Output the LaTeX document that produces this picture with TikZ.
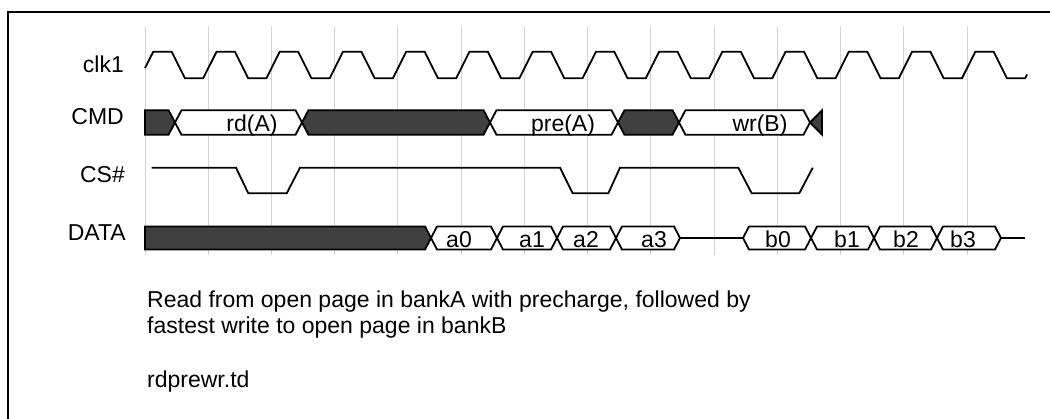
\documentclass[tikz,border=0pt]{standalone}
\usepackage{fontspec}
\setmainfont{Liberation Sans}
\begin{document}
\begin{tikzpicture}[
  x=1pt, y=-1pt,
  sig/.style={line width=1.8pt, line join=miter},
  gridline/.style={draw=black!17, line width=0.9pt},
  busopen/.style={sig, fill=white},
  busdark/.style={sig, fill=black!75},
  lbl/.style={font=\fontsize{23}{27}\selectfont, inner sep=0pt}
]
\useasboundingbox (0,0) rectangle (1050,418);
% frame
\draw[line width=2pt] (1060,12) -- (8,12) -- (8,430);

% clock grid
\foreach \k in {0,...,13}
  \draw[gridline] ({145+\k*63.23},26) -- ({145+\k*63.23},255);

% signal names
\node[lbl, anchor=base east] (clk) at (124,72) {clk1};
\node[lbl, anchor=base east] (cmd) at (124,124) {CMD};
\node[lbl, anchor=base east] (cs) at (125,182) {CS\#};
\node[lbl, anchor=base east] (data) at (126,240) {DATA};

% clk1
\draw[sig] (145,68) \foreach \k in {0,...,13} {
  -- ({145+\k*63.23+8.3},51.7) -- ({145+\k*63.23+26.7},51.7)
  -- ({145+\k*63.23+40},78.3) -- ({145+\k*63.23+58.2},78.3)} -- (1027,74.5);

% CMD bus
\draw[busdark] (145,110.2) -- (168.5,110.2) -- (175,122.5) -- (168.5,134.8) -- (145,134.8) -- cycle;
\foreach \a/\b in {302/490, 618/679}
  \draw[busdark] (\a,122.5) -- ({\a+6.5},110.2) -- ({\b-6.5},110.2) -- (\b,122.5)
    -- ({\b-6.5},134.8) -- ({\a+6.5},134.8) -- cycle;
\draw[busdark] (810,122.5) -- (822,110.5) -- (822,134.5) -- cycle;
\foreach \a/\b/\c/\t/\n in {175/302/252/rd(A)/rd, 490/618/563/pre(A)/pre, 679/810/760/wr(B)/wr} {
  \draw[busopen] (\a,122.5) -- ({\a+6.5},110.2) -- ({\b-6.5},110.2) -- (\b,122.5)
    -- ({\b-6.5},134.8) -- ({\a+6.5},134.8) -- cycle;
  \node[lbl, anchor=base] (cmd-\n) at (\c,131) {\t};
}

% CS#
\draw[sig] (151.7,167.7) -- (236,167.7) -- (248.3,193.3) -- (286.7,193.3) -- (300,167.7)
  -- (560,167.7) -- (572.7,193.3) -- (608.3,193.3) -- (620,167.7)
  -- (738.3,167.7) -- (751.7,193.3) -- (799.3,193.3) -- (812.7,167.7);

% DATA bus
\draw[busdark] (145,226.5) -- (425,226.5) -- (431,238) -- (425,249.5) -- (145,249.5) -- cycle;
\draw[sig] (680,238) -- (743,238);
\draw[sig] (1001,238) -- (1025,238);
\foreach \a/\b/\c/\t in {431/497/459/a0, 497/557/532/a1, 557/616/586/a2, 616/680/654/a3,
    743/811/778/b0, 811/874/847/b1, 874/937/906/b2, 937/1001/963/b3} {
  \draw[busopen] (\a,238) -- ({\a+6},226.5) -- ({\b-6},226.5) -- (\b,238)
    -- ({\b-6},249.5) -- ({\a+6},249.5) -- cycle;
  \node[lbl, anchor=base] (data-\t) at (\c,247.5) {\t};
}

% notes
\node[lbl, anchor=base west] (note1) at (147,307) {Read from open page in bankA with precharge, followed by};
\node[lbl, anchor=base west] (note2) at (147,333) {fastest write to open page in bankB};
\node[lbl, anchor=base west] (file) at (147,387) {rdprewr.td};
\end{tikzpicture}
\end{document}
